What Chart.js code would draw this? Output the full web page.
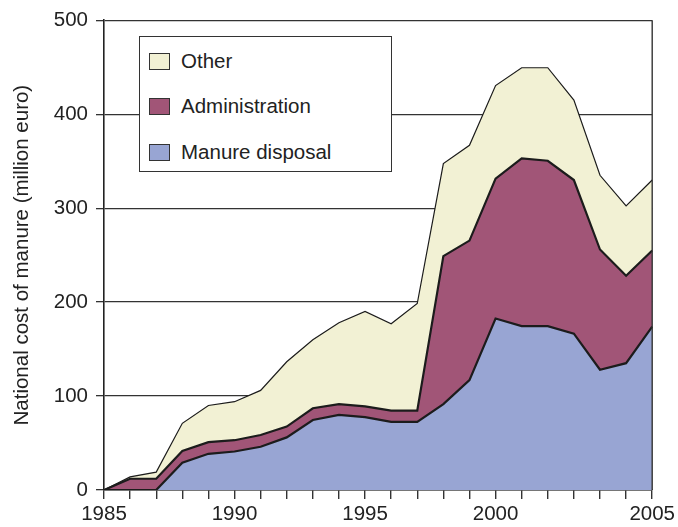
<!DOCTYPE html>
<html>
<head>
<meta charset="utf-8">
<script src="https://cdn.jsdelivr.net/npm/chart.js@4"></script>
<style>
    body { margin: 0; background: #fff; font-family: "Liberation Sans", Arial, sans-serif; }
    .wrap { position: relative; width: 678px; height: 527px; }
    #chart { position: absolute; left: 0; top: 0; }
    .legend {
        position: absolute; left: 139px; top: 36px; width: 253px; height: 136px;
        border: 1.3px solid #333; background: #fff; box-sizing: border-box;
    }
    .legend-item { position: absolute; left: 9px; height: 24px; display: flex; align-items: center; }
    .legend-box { width: 19px; height: 15px; border: 1px solid #333; margin-right: 11px; }
    .legend-label { font-size: 20.5px; color: #222; }
</style>
</head>
<body>
<div class="wrap">
    <canvas id="chart" width="678" height="527"></canvas>
    <div class="legend" id="legend"></div>
</div>
<script>
// x positions (one per tick), only some labelled
const tickLabels = ['1985', '', '', '', '', '1990', '', '', '', '', '1995', '', '', '', '', '2000', '', '', '', '', '', '2005'];

const seriesNames = ['Manure disposal', 'Administration', 'Other'];
const seriesColors = ['#98a5d3', '#a15577', '#f2f1d4'];

// stacked components, million euro
const manureDisposal = [0, 0, 0, 29, 38.5, 41, 46, 56, 74.5, 80, 77.5, 72.5, 72.5, 91.5, 117, 182.5, 174.5, 174.5, 166.5, 128, 135, 174];
const administration = [0, 12, 12, 12.5, 12.5, 12, 12.5, 11.5, 12.5, 11.5, 11.5, 12, 12, 157.5, 148.5, 149, 178.5, 176, 163.5, 128, 93, 81];
const other = [0, 2, 7, 29.5, 39, 41, 47.5, 69, 73, 86.5, 101, 92.5, 114, 98.5, 101.5, 99, 96.5, 99, 85, 79, 74.5, 75];

const yTicks = [0, 100, 200, 300, 400, 500];

const fontFamily = '"Liberation Sans", Arial, sans-serif';
const textColor = '#222';

const seriesData = [manureDisposal, administration, other];
const lineWidths = [2.2, 2.2, 1.2];

// right edge of the frame
const frameRight = {
    id: 'frameRight',
    afterDraw: (chart) => {
        const { ctx, chartArea } = chart;
        ctx.save();
        ctx.strokeStyle = '#333';
        ctx.lineWidth = 1.4;
        ctx.beginPath();
        ctx.moveTo(chartArea.right, chartArea.top);
        ctx.lineTo(chartArea.right, chartArea.bottom);
        ctx.stroke();
        ctx.restore();
    }
};

new Chart(document.getElementById('chart'), {
    type: 'line',
    data: {
        labels: tickLabels,
        datasets: seriesNames.map((name, i) => ({
            label: name,
            data: seriesData[i],
            backgroundColor: seriesColors[i],
            borderColor: '#1c1c1c',
            borderWidth: lineWidths[i],
            fill: i === 0 ? 'origin' : '-1',
            pointRadius: 0,
            tension: 0
        }))
    },
    options: {
        responsive: false,
        animation: false,
        devicePixelRatio: 1,
        layout: { padding: { top: 20, right: 0, bottom: 0, left: 0 } },
        plugins: {
            legend: { display: false },
            tooltip: { enabled: false }
        },
        scales: {
            x: {
                type: 'category',
                offset: false,
                grid: { drawOnChartArea: false, drawTicks: true, tickLength: 9, color: '#333', lineWidth: 1.4 },
                border: { display: true, color: '#222', width: 1.6 },
                ticks: {
                    autoSkip: false, maxRotation: 0, padding: 3,
                    color: textColor, font: { family: fontFamily, size: 20.5 }
                },
                afterFit: (scale) => { scale.height = 37; }
            },
            y: {
                stacked: true,
                min: 0,
                max: 500,
                afterBuildTicks: (scale) => { scale.ticks = yTicks.map(v => ({ value: v })); },
                grid: { color: '#333', lineWidth: 1.3, drawTicks: true, tickLength: 8 },
                border: { display: true, color: '#222', width: 1.6 },
                ticks: {
                    padding: 8, color: textColor,
                    font: { family: fontFamily, size: 20.5 }
                },
                title: {
                    display: true,
                    text: 'National cost of manure (million euro)',
                    color: textColor,
                    font: { family: fontFamily, size: 20.5, weight: 'normal' },
                    padding: { top: 10, bottom: 0 }
                },
                afterFit: (scale) => { scale.width = 104; }
            }
        }
    },
    plugins: [frameRight]
});

// legend, top entry first
const legend = document.getElementById('legend');
const legendTops = [12, 57, 103];
[2, 1, 0].forEach((idx, row) => {
    const item = document.createElement('div');
    item.className = 'legend-item';
    item.style.top = legendTops[row] + 'px';
    item.innerHTML = `
        <div class="legend-box" style="background:${seriesColors[idx]}"></div>
        <span class="legend-label">${seriesNames[idx]}</span>
    `;
    legend.appendChild(item);
});
</script>
</body>
</html>
